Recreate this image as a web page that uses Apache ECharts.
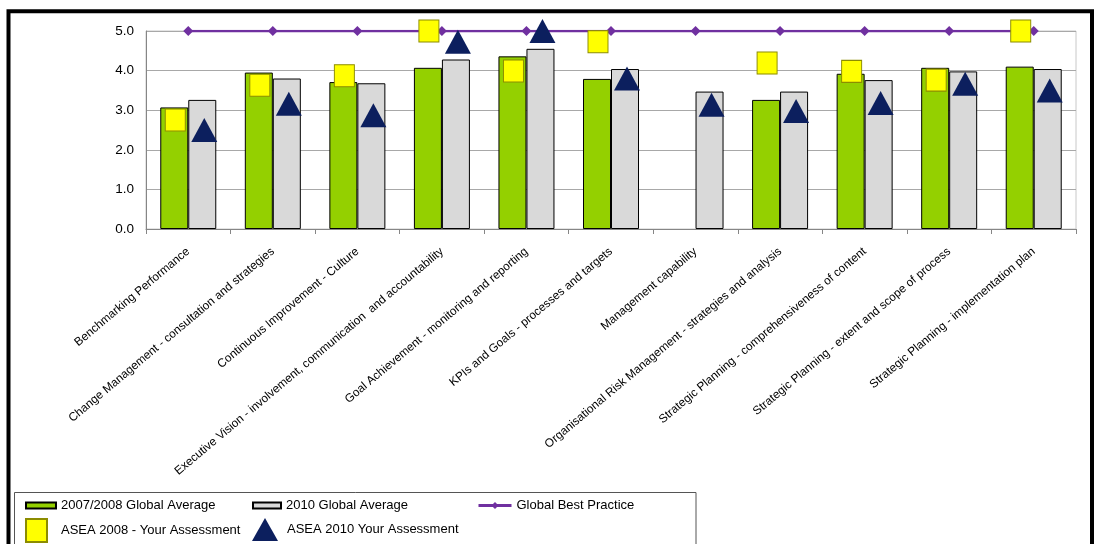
<!DOCTYPE html>
<html>
<head>
<meta charset="utf-8">
<script src="https://cdn.jsdelivr.net/npm/echarts@6/dist/echarts.min.js"></script>
<style>
html,body{margin:0;padding:0;background:#fff;}
#chart{width:1095px;height:544px;}
</style>
</head>
<body>
<div id="chart"></div>
<script>
const categories = [
  "Benchmarking Performance",
  "Change Management - consultation and strategies",
  "Continuous Improvement - Culture",
  "Executive Vision - involvement, communication  and accountability",
  "Goal Achievement - monitoring and reporting",
  "KPIs and Goals - processes and targets",
  "Management capability",
  "Organisational Risk Management - strategies and analysis",
  "Strategic Planning - comprehensiveness of content",
  "Strategic Planning - extent and scope of process",
  "Strategic Planning - implementation plan"
];
const yTicks = [0, 1, 2, 3, 4, 5];
const globalAvg2008 = [3.07, 3.95, 3.71, 4.07, 4.36, 3.79, '-', 3.26, 3.92, 4.07, 4.10];
const globalAvg2010 = [3.26, 3.80, 3.68, 4.28, 4.55, 4.04, 3.47, 3.47, 3.76, 3.98, 4.04];
const bestPractice = [5, 5, 5, 5, 5, 5, 5, 5, 5, 5, 5];
const asea2008 = [2.75, 3.63, 3.87, 5.0, 3.99, 4.73, '-', 4.19, 3.98, 3.76, 5.0];
const asea2010 = [2.50, 3.16, 2.87, 4.73, 5.0, 3.80, 3.14, 2.98, 3.18, 3.67, 3.50];

const FONT = "'Liberation Sans', Arial, sans-serif";
const chart = echarts.init(document.getElementById('chart'), null, {renderer: 'canvas'});

const legendBase = {
  orient: 'horizontal',
  padding: 0,
  itemGap: 0,
  textStyle: {fontSize: 13, color: '#000', fontFamily: FONT}
};

chart.setOption({
  backgroundColor: '#ffffff',
  animation: false,
  textStyle: {fontFamily: FONT},
  grid: {
    left: 146, right: 19, top: 31, bottom: 315,
    show: true, borderColor: '#c8c8c8', borderWidth: 1, backgroundColor: 'transparent'
  },
  graphic: [
    {type: 'rect', shape: {x: 8.5, y: 11.3, width: 1083.5, height: 600},
     style: {fill: 'none', stroke: '#000', lineWidth: 4}, z: 100, silent: true},
    {type: 'rect', shape: {x: 14.5, y: 492.5, width: 681.5, height: 100},
     style: {fill: 'none', stroke: '#555', lineWidth: 1}, z: 100, silent: true}
  ],
  legend: [
    Object.assign({}, legendBase, {left: 25, top: 499, itemWidth: 30, itemHeight: 6,
      data: [{name: '2007/2008 Global Average', icon: 'rect'}]}),
    Object.assign({}, legendBase, {left: 252, top: 499, itemWidth: 28, itemHeight: 6,
      data: [{name: '2010 Global Average', icon: 'rect'}]}),
    Object.assign({}, legendBase, {left: 477, top: 499, itemWidth: 33, itemHeight: 9,
      lineStyle: {width: 3, color: '#7030a0'},
      data: [{name: 'Global Best Practice'}]}),
    Object.assign({}, legendBase, {left: 25, top: 518, itemWidth: 21, itemHeight: 23,
      textStyle: {fontSize: 13, color: '#000', fontFamily: FONT, padding: [6, 0, 0, 9]},
      data: [{name: 'ASEA 2008 - Your Assessment', icon: 'rect'}]}),
    Object.assign({}, legendBase, {left: 252, top: 518, itemWidth: 26, itemHeight: 23,
      textStyle: {fontSize: 13, color: '#000', fontFamily: FONT, padding: [6, 0, 0, 4]},
      data: [{name: 'ASEA 2010 Your Assessment', icon: 'triangle'}]})
  ],
  xAxis: {
    type: 'category',
    data: categories,
    axisLine: {lineStyle: {color: '#868686', width: 1}},
    axisTick: {show: true, length: 5, lineStyle: {color: '#868686'}},
    axisLabel: {rotate: 40, fontSize: 11.8, color: '#000', margin: 21, interval: 0, fontFamily: FONT},
    splitLine: {show: false}
  },
  yAxis: {
    type: 'value',
    min: 0, max: 5, interval: 1,
    axisLine: {show: true, lineStyle: {color: '#868686', width: 1}},
    axisTick: {show: false},
    axisLabel: {fontSize: 13.5, color: '#000', margin: 12, fontFamily: FONT,
      formatter: v => yTicks.indexOf(v) >= 0 ? v.toFixed(1) : ''},
    splitLine: {lineStyle: {color: '#a8a8a8', width: 1}}
  },
  series: [
    {name: '2007/2008 Global Average', type: 'bar', data: globalAvg2008,
     barWidth: 28, barGap: '0%',
     itemStyle: {color: '#94d000', borderColor: '#000', borderWidth: 1}, z: 2},
    {name: '2010 Global Average', type: 'bar', data: globalAvg2010,
     barWidth: 28, barGap: '0%',
     itemStyle: {color: '#d9d9d9', borderColor: '#000', borderWidth: 1}, z: 2},
    {name: 'Global Best Practice', type: 'line', data: bestPractice,
     symbol: 'diamond', symbolSize: 10, showSymbol: true,
     lineStyle: {color: '#7030a0', width: 2.5},
     itemStyle: {color: '#7030a0'}, z: 3},
    {name: 'ASEA 2008 - Your Assessment', type: 'scatter', data: asea2008,
     symbol: 'rect', symbolSize: [20, 22], symbolOffset: [-13, 0],
     itemStyle: {color: '#ffff00', borderColor: '#8c8c00', borderWidth: 1, opacity: 1}, z: 4},
    {name: 'ASEA 2010 Your Assessment', type: 'scatter', data: asea2010,
     symbol: 'triangle', symbolSize: [26, 24], symbolOffset: [16, 0],
     itemStyle: {color: '#0c1f5e', opacity: 1}, z: 4}
  ]
});
</script>
</body>
</html>
